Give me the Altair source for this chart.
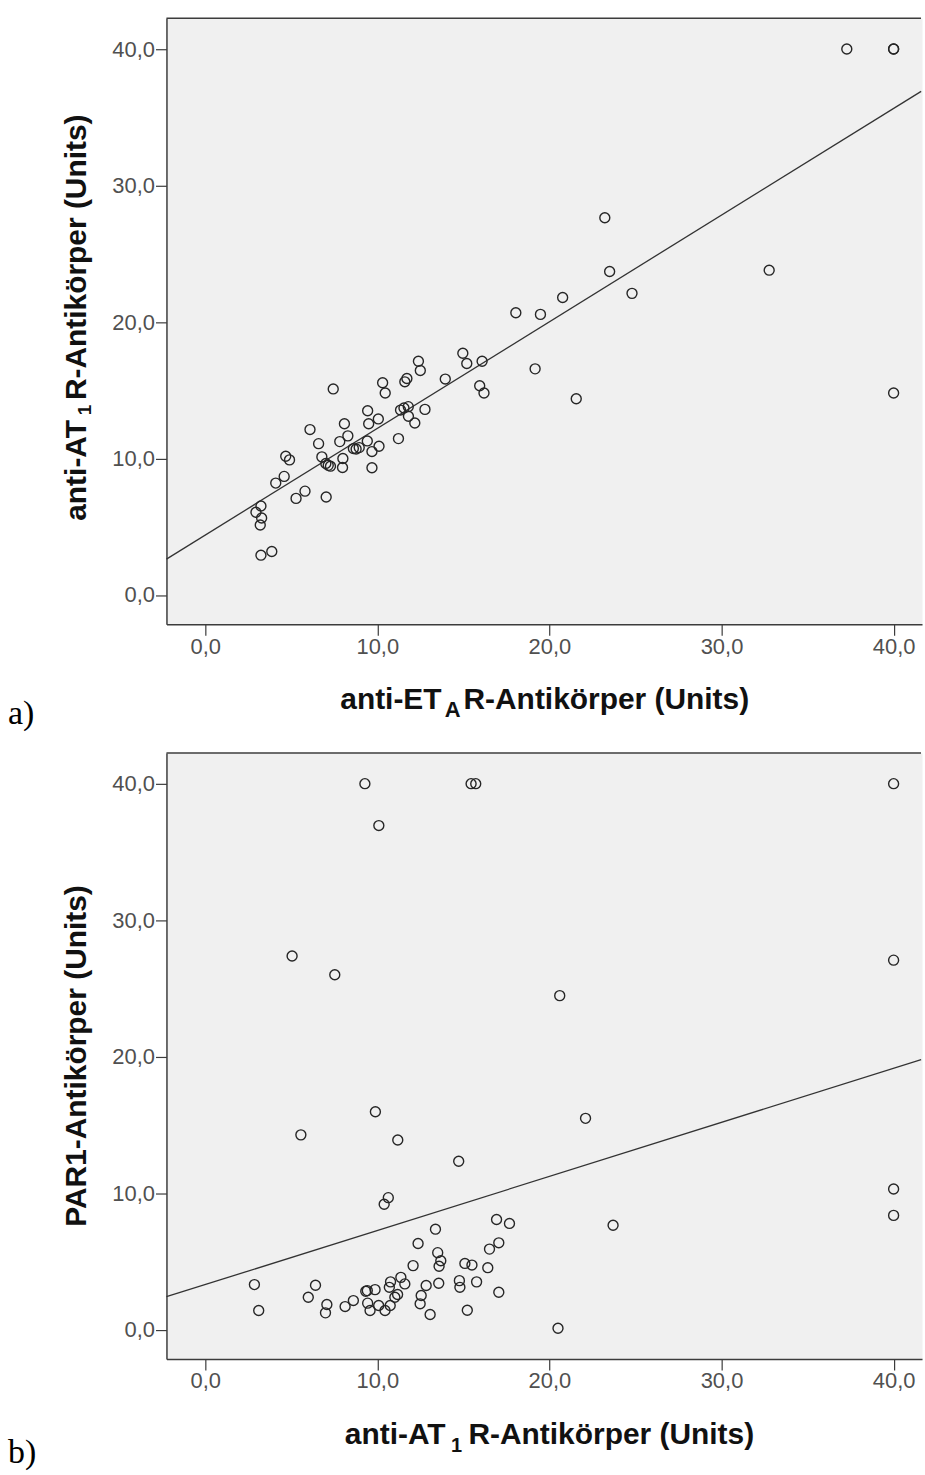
import altair as alt
import pandas as pd

# ---- panel a: anti-ET_A R (x) vs anti-AT1 R (y) ----
a_x = [2.95, 3.24, 3.28, 3.20, 3.24, 3.87, 4.10, 4.59, 4.68, 4.90,
       5.28, 5.80, 6.09, 6.59, 6.78, 7.03, 7.01, 7.28, 7.15, 7.44,
       7.98, 8.00, 7.82, 8.29, 8.09, 8.61, 8.77, 8.95, 9.44, 9.50,
       10.06, 9.42, 9.69, 10.10, 9.69, 10.31, 10.46, 11.23, 11.35, 11.55,
       11.80, 11.60, 11.72, 12.18, 11.81, 12.39, 12.50, 12.77, 13.95, 14.97,
       15.20, 16.09, 15.95, 16.20, 18.05, 19.48, 19.17, 20.77, 21.56, 23.22,
       23.50, 24.80, 32.77, 37.28, 40.0, 40.0, 40.0]
a_y = [6.06, 6.52, 5.64, 5.13, 2.92, 3.19, 8.20, 8.69, 10.17, 9.90,
       7.08, 7.61, 12.12, 11.09, 10.12, 7.18, 9.64, 9.44, 9.50, 15.10,
       9.34, 10.00, 11.24, 11.66, 12.55, 10.73, 10.70, 10.80, 13.50, 12.55,
       12.90, 11.29, 10.51, 10.90, 9.32, 15.55, 14.80, 11.46, 13.55, 13.70,
       13.80, 15.62, 15.86, 12.60, 13.10, 17.13, 16.45, 13.60, 15.82, 17.71,
       16.96, 17.13, 15.33, 14.80, 20.68, 20.56, 16.57, 21.80, 14.38, 27.64,
       23.70, 22.10, 23.80, 40.0, 40.0, 40.0, 14.80]
# fitted line, end points at the left and right edge of the plot
a_fit_x = [-2.25, 41.6]
a_fit_y = [2.63, 36.90]

# ---- panel b: anti-AT1 R (x) vs PAR1 (y) ----
b_x = [2.86, 3.11, 5.05, 5.56, 5.99, 6.41, 6.99, 7.07, 7.53, 8.13,
       8.61, 9.28, 9.33, 9.42, 9.44, 9.58, 9.87, 9.89, 10.09, 10.08,
       10.45, 10.40, 10.64, 10.75, 10.70, 10.77, 11.02, 11.18, 11.19, 11.37,
       11.60, 12.08, 12.37, 12.49, 12.55, 12.84, 13.07, 13.38, 13.51, 13.69,
       13.59, 13.57, 14.73, 14.77, 14.80, 15.09, 15.50, 15.23, 15.45, 15.72,
       15.77, 16.42, 16.52, 16.93, 17.06, 17.06, 17.68, 20.50, 20.60, 22.10,
       23.70, 40.0, 40.0, 40.0, 40.0]
b_y = [3.30, 1.40, 27.37, 14.27, 2.37, 3.25, 1.23, 1.84, 26.00, 1.69,
       2.13, 40.0, 2.81, 2.86, 1.94, 1.40, 2.93, 15.96, 36.93, 1.77,
       1.40, 9.19, 9.67, 1.77, 3.10, 3.50, 2.37, 2.57, 13.89, 3.83,
       3.35, 4.69, 6.31, 1.89, 2.50, 3.23, 1.11, 7.36, 5.64, 5.05,
       4.64, 3.40, 12.34, 3.59, 3.10, 4.85, 4.73, 1.42, 40.0, 40.0,
       3.50, 4.54, 5.90, 8.07, 6.36, 2.74, 7.78, 0.10, 24.47, 15.48,
       7.65, 40.0, 27.07, 10.30, 8.37]
b_fit_x = [-2.25, 41.6]
b_fit_y = [2.41, 19.78]

# axis titles, split where the subscript sits
a_xtitle = ["anti-ET", "A", "R-Antikörper (Units)"]
a_ytitle = ["anti-AT", "1", "R-Antikörper (Units)"]
b_xtitle = ["anti-AT", "1", "R-Antikörper (Units)"]
b_ytitle = ["PAR1-Antikörper (Units)"]
tick_values = [0, 10, 20, 30, 40]

X_DOMAIN = [-2.25, 41.65]
Y_DOMAIN = [-2.15, 42.25]
W, H = 758, 608
FRAME = "#3c3c3c"
INK = "#262626"
TITLE_FONT = "Liberation Sans"
TITLE_SIZE = 30
LABEL_EXPR = "replace(format(datum.value, '.1f'), '.', ',')"


def axis(orient):
    return alt.Axis(
        orient=orient, values=tick_values, labelExpr=LABEL_EXPR, title=None,
        grid=False, domain=True, domainColor=FRAME, domainWidth=1.5,
        ticks=True, tickColor=FRAME, tickWidth=1.2, tickSize=11,
        labelFont="Liberation Sans", labelFontSize=22, labelColor="#505050",
        labelPadding=1,
    )


def text_piece(s, x, y, size=TITLE_SIZE, align="left", angle=0,
               font=TITLE_FONT, weight="bold", color="#111111"):
    return alt.Chart(pd.DataFrame({"t": [s]})).mark_text(
        font=font, fontSize=size, fontWeight=weight, color=color,
        align=align, baseline="alphabetic", angle=angle,
    ).encode(text="t:N", x=alt.value(x), y=alt.value(y))


def panel(xs, ys, fx, fy, extras):
    pts = pd.DataFrame({"x": xs, "y": ys})
    fit = pd.DataFrame({"x": fx, "y": fy})
    xsc = alt.Scale(domain=X_DOMAIN, nice=False, zero=False)
    ysc = alt.Scale(domain=Y_DOMAIN, nice=False, zero=False)

    points = alt.Chart(pts).mark_point(
        shape="circle", filled=False, size=100, stroke=INK, strokeWidth=1.4,
        opacity=1,
    ).encode(
        x=alt.X("x:Q", scale=xsc, axis=axis("bottom")),
        y=alt.Y("y:Q", scale=ysc, axis=axis("left")),
    )
    line = alt.Chart(fit).mark_line(color="#333333", strokeWidth=1.3).encode(
        x=alt.X("x:Q", scale=xsc), y=alt.Y("y:Q", scale=ysc)
    )
    # top edge of the frame (the right side stays open)
    top = alt.Chart(pd.DataFrame({"k": [0]})).mark_rule(
        color=FRAME, strokeWidth=1.5
    ).encode(x=alt.value(0), x2=alt.value(W - 1), y=alt.value(0))

    return alt.layer(line, points, top, *extras).properties(width=W, height=H)


extras_a = [
    text_piece(a_xtitle[0], 276, 693, align="right"),
    text_piece(a_xtitle[1], 287, 701, size=22, align="center"),
    text_piece(a_xtitle[2], 298, 693),
    text_piece(a_ytitle[0], -81, 403, align="right", angle=270),
    text_piece(a_ytitle[1], -76, 393, size=19, align="center", angle=270),
    text_piece(a_ytitle[2], -81, 383, angle=270),
    text_piece("a)", -159, 708, size=34, font="Liberation Serif",
               weight="normal", color="#000000"),
]
extras_b = [
    text_piece(b_xtitle[0], 280, 693, align="right"),
    text_piece(b_xtitle[1], 291, 701, size=20, align="center"),
    text_piece(b_xtitle[2], 303, 693),
    text_piece(b_ytitle[0], -81, 304, align="center", angle=270),
    text_piece("b)", -159, 712, size=34, font="Liberation Serif",
               weight="normal", color="#000000"),
]

chart = alt.vconcat(
    panel(a_x, a_y, a_fit_x, a_fit_y, extras_a),
    panel(b_x, b_y, b_fit_x, b_fit_y, extras_b),
    spacing=129, bounds="flush",
).properties(
    padding={"left": 7, "top": 14, "right": 0, "bottom": 0},
    background="#ffffff",
).configure_view(fill="#F0F0F0", stroke="transparent")

chart.save("out.html", embed_options={"renderer": "svg", "actions": False})
